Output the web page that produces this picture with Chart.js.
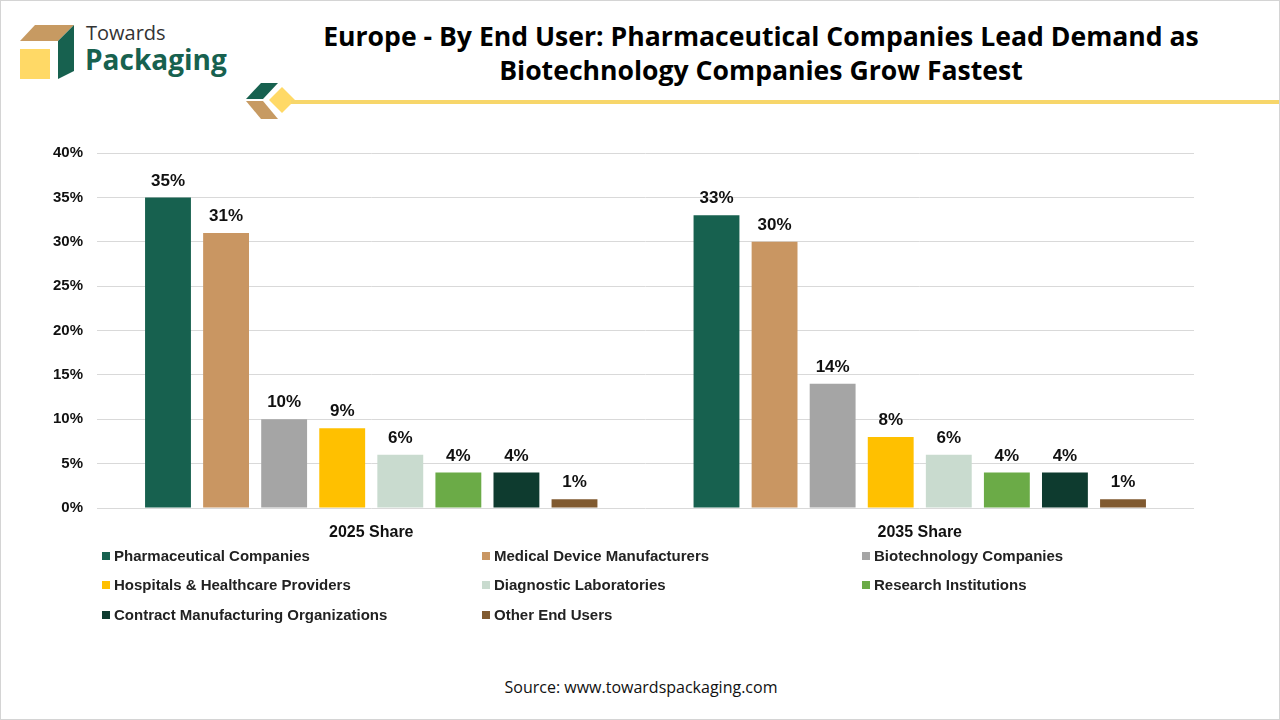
<!DOCTYPE html>
<html>
<head>
<meta charset="utf-8">
<script src="https://cdn.jsdelivr.net/npm/chart.js@4.4.1/dist/chart.umd.min.js"></script>
<style>
  html, body { margin:0; padding:0; background:#fff; }
  #page { position:relative; width:1278px; height:718px; border:1px solid #d4d4d4; overflow:hidden; font-family:Arial, "Liberation Sans", sans-serif; }
  #logo { position:absolute; left:0; top:0; }
  #title { position:absolute; left:300px; width:920px; top:18px; text-align:center; font-family:"Open Sans", sans-serif; font-weight:700; font-size:26.6px; line-height:34px; color:#000; }
  #deco { position:absolute; left:0; top:78px; }
  #chartBox { position:absolute; left:0; top:129px; width:1280px; height:421px; }
  #legend { position:absolute; left:0; top:545px; width:1280px; height:90px; }
  .lg { position:absolute; font-size:15px; font-weight:700; color:#222; white-space:nowrap; line-height:18px; }
  .lg i { display:inline-block; width:8px; height:8px; margin-right:4px; vertical-align:1px; }
  #source { position:absolute; left:0; width:1280px; top:675px; text-align:center; font-family:"Open Sans", sans-serif; font-size:16px; color:#111; }
</style>
</head>
<body>
<div id="page">
  <svg id="logo" width="240" height="90">
    <polygon points="34,24 73,24 57,40 19,40" fill="#C79A62"/>
    <polygon points="73,24 73,70 57,78 57,40" fill="#17614F"/>
    <rect x="19" y="48" width="30" height="30" fill="#FFD966"/>
    <text x="85" y="39" font-family="Open Sans, sans-serif" font-size="20" fill="#333">Towards</text>
    <text x="84" y="69" font-family="Open Sans, sans-serif" font-weight="700" font-size="28" fill="#17614F">Packaging</text>
  </svg>
  <div id="title">Europe - By End User: Pharmaceutical Companies Lead Demand as<br>Biotechnology Companies Grow Fastest</div>
  <svg id="deco" width="1280" height="44">
    <polygon points="260,4 277,4 262,20 245,20" fill="#17614F"/>
    <polygon points="245,22 262,22 277,40 260,40" fill="#C79A62"/>
    <polygon points="281,8 294,21 281,34 268,21" fill="#FFD966"/>
    <rect x="290" y="21" width="990" height="4" fill="#F7D66A"/>
  </svg>
  <div id="chartBox"><canvas id="chart"></canvas></div>
  <div id="legend"></div>
  <div id="source">Source: www.towardspackaging.com</div>
</div>
<script>
const categories = ['2025 Share', '2035 Share'];
const endUsers = [
  'Pharmaceutical Companies',
  'Medical Device Manufacturers',
  'Biotechnology Companies',
  'Hospitals & Healthcare Providers',
  'Diagnostic Laboratories',
  'Research Institutions',
  'Contract Manufacturing Organizations',
  'Other End Users'
];
const share2025 = [35, 31, 10, 9, 6, 4, 4, 1];
const share2035 = [33, 30, 14, 8, 6, 4, 4, 1];
const colors = ['#17614F', '#C99662', '#A5A5A5', '#FFC000', '#C9DBCF', '#6BAB47', '#0E3B2F', '#805A30'];
const yTicks = [0, 5, 10, 15, 20, 25, 30, 35, 40];

// legend: 3 columns, filled row by row
const legendEl = document.getElementById('legend');
const colX = [101, 481, 861];
const rowY = [1, 30, 60];
endUsers.forEach((name, i) => {
  const d = document.createElement('div');
  d.className = 'lg';
  d.style.left = colX[i % 3] + 'px';
  d.style.top = rowY[Math.floor(i / 3)] + 'px';
  d.innerHTML = `<i style="background:${colors[i]}"></i>`;
  d.appendChild(document.createTextNode(name));
  legendEl.appendChild(d);
});

const barLabels = {
  id: 'barLabels',
  afterDatasetsDraw(chart) {
    const ctx = chart.ctx;
    ctx.save();
    ctx.font = 'bold 17px Arial, "Liberation Sans", sans-serif';
    ctx.fillStyle = '#111';
    ctx.textAlign = 'center';
    ctx.textBaseline = 'bottom';
    chart.data.datasets.forEach((ds, di) => {
      chart.getDatasetMeta(di).data.forEach((bar, j) => {
        ctx.fillText(ds.data[j] + '%', bar.x, bar.y - 8);
      });
    });
    ctx.restore();
  }
};

// eslint-disable-next-line no-undef
new Chart(document.getElementById('chart'), {
  type: 'bar',
  data: {
    labels: categories,
    datasets: endUsers.map((name, i) => ({
      label: name,
      data: [share2025[i], share2035[i]],
      backgroundColor: colors[i],
      categoryPercentage: 0.847,
      barPercentage: 0.79
    }))
  },
  options: {
    responsive: true,
    maintainAspectRatio: false,
    animation: false,
    layout: { padding: { top: 2, right: 87, left: 0, bottom: 0 } },
    plugins: { legend: { display: false }, tooltip: { enabled: false } },
    scales: {
      x: {
        grid: { display: false },
        border: { display: false },
        ticks: { color: '#111', font: { family: 'Arial', size: 16, weight: 'bold' }, padding: 7 },
        afterFit(scale) { scale.height = 43; }
      },
      y: {
        min: 0, max: 40,
        afterBuildTicks(scale) { scale.ticks = yTicks.map(v => ({ value: v })); },
        grid: { color: '#d9d9d9', drawTicks: false },
        border: { display: false },
        ticks: { color: '#111', font: { family: 'Arial', size: 15, weight: 'bold' }, padding: 14, callback: v => v + '%' },
        afterFit(scale) { scale.width = 96; }
      }
    }
  },
  plugins: [barLabels]
});
</script>
</body>
</html>
